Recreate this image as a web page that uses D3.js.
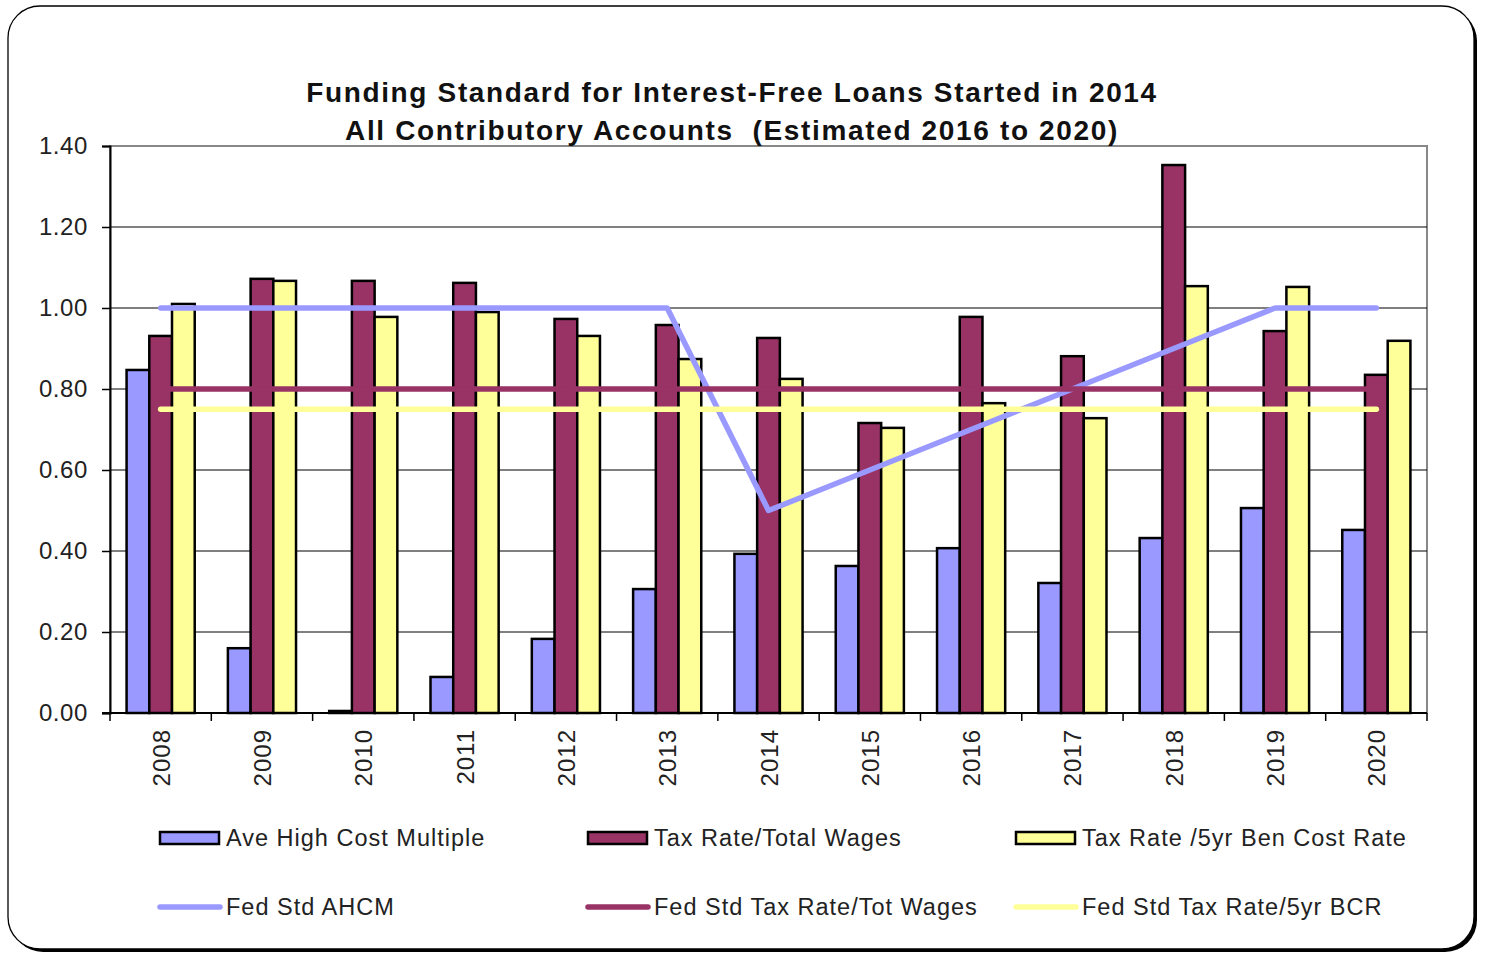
<!DOCTYPE html>
<html>
<head>
<meta charset="utf-8">
<script src="https://cdn.jsdelivr.net/npm/d3@7"></script>
<style>
  body { margin: 0; background: #fff; }
  svg { display: block; font-family: "Liberation Sans", Arial, sans-serif; }
</style>
</head>
<body>
<svg id="chart" width="1485" height="954"></svg>
<script>
// data
const years = ["2008","2009","2010","2011","2012","2013","2014","2015","2016","2017","2018","2019","2020"];
const aveHighCost = [0.847, 0.160, 0.005, 0.089, 0.183, 0.306, 0.393, 0.363, 0.407, 0.321, 0.432, 0.506, 0.452];
const taxTotWages = [0.931, 1.072, 1.067, 1.062, 0.973, 0.958, 0.926, 0.716, 0.978, 0.881, 1.353, 0.943, 0.835];
const tax5yrBcr   = [1.010, 1.067, 0.978, 0.990, 0.931, 0.874, 0.825, 0.704, 0.765, 0.728, 1.054, 1.052, 0.919];
const fedAhcm     = [1.0, 1.0, 1.0, 1.0, 1.0, 1.0, 0.5, 0.6, 0.7, 0.8, 0.9, 1.0, 1.0];
const fedTaxWages = [0.8, 0.8, 0.8, 0.8, 0.8, 0.8, 0.8, 0.8, 0.8, 0.8, 0.8, 0.8, 0.8];
const fedTaxBcr   = [0.75, 0.75, 0.75, 0.75, 0.75, 0.75, 0.75, 0.75, 0.75, 0.75, 0.75, 0.75, 0.75];
const yTicks = [0, 0.2, 0.4, 0.6, 0.8, 1.0, 1.2, 1.4];
const titleLines = ["Funding Standard for Interest-Free Loans Started in 2014",
                    "All Contributory Accounts  (Estimated 2016 to 2020)"];

const COLORS = { blue: "#9999FF", maroon: "#993366", yellow: "#FFFF99" };

const barSeries = [
  { name: "Ave High Cost Multiple", values: aveHighCost, color: COLORS.blue },
  { name: "Tax Rate/Total Wages", values: taxTotWages, color: COLORS.maroon },
  { name: "Tax Rate /5yr Ben Cost Rate", values: tax5yrBcr, color: COLORS.yellow }
];
const lineSeries = [
  { name: "Fed Std AHCM", values: fedAhcm, color: COLORS.blue },
  { name: "Fed Std Tax Rate/Tot Wages", values: fedTaxWages, color: COLORS.maroon },
  { name: "Fed Std Tax Rate/5yr BCR", values: fedTaxBcr, color: COLORS.yellow }
];

const plot = { left: 110, right: 1427, top: 146, bottom: 713 };
const svg = d3.select("#chart");

// frame with shadow
svg.append("rect").attr("x", 11).attr("y", 9).attr("width", 1466).attr("height", 943)
   .attr("rx", 32).attr("fill", "#000");
svg.append("rect").attr("x", 8).attr("y", 6).attr("width", 1466).attr("height", 943)
   .attr("rx", 32).attr("fill", "#fff").attr("stroke", "#000").attr("stroke-width", 1.3);

const x = d3.scaleBand().domain(years).range([plot.left, plot.right]);
const xInner = d3.scaleBand().domain(barSeries.map(s => s.name))
   .range([0, x.bandwidth()]).paddingInner(0).paddingOuter(0.73);
const y = d3.scaleLinear().domain([0, 1.4]).range([plot.bottom, plot.top]);

// plot border
svg.append("rect").attr("x", plot.left).attr("y", plot.top)
   .attr("width", plot.right - plot.left).attr("height", plot.bottom - plot.top)
   .attr("fill", "none").attr("stroke", "#888").attr("stroke-width", 2);

// gridlines
svg.append("g").selectAll("line").data(yTicks.filter(t => t > 0 && t < 1.4)).join("line")
   .attr("x1", plot.left).attr("x2", plot.right)
   .attr("y1", d => y(d)).attr("y2", d => y(d))
   .attr("stroke", "#000").attr("stroke-width", 1);

// bars
const groups = svg.append("g").selectAll("g").data(years).join("g")
   .attr("transform", d => `translate(${x(d)},0)`);
groups.selectAll("rect").data((d, i) => barSeries.map(s => ({ s, v: s.values[i] }))).join("rect")
   .attr("x", d => xInner(d.s.name))
   .attr("width", xInner.bandwidth())
   .attr("y", d => y(d.v))
   .attr("height", d => y(0) - y(d.v))
   .attr("fill", d => d.s.color)
   .attr("stroke", "#000").attr("stroke-width", 2.5);

// y axis
const yAxis = d3.axisLeft(y).tickValues(yTicks).tickFormat(d3.format(".2f")).tickSize(8).tickPadding(14);
const gy = svg.append("g").attr("transform", `translate(${plot.left},0)`).call(yAxis);
gy.select(".domain").attr("stroke", "#000").attr("stroke-width", 2);
gy.selectAll(".tick line").attr("stroke", "#000").attr("stroke-width", 1.5);
gy.selectAll("text").attr("font-size", 24).attr("fill", "#222").attr("letter-spacing", 0.6)
   .attr("font-family", "Liberation Sans, Arial, sans-serif");

// x axis: ticks on band boundaries
const gx = svg.append("g");
gx.append("line").attr("x1", plot.left - 8).attr("x2", plot.right)
   .attr("y1", plot.bottom).attr("y2", plot.bottom).attr("stroke", "#000").attr("stroke-width", 2);
const bounds = years.map(d => x(d)).concat([x.range()[1]]);
gx.selectAll("line.tk").data(bounds).join("line").attr("class", "tk")
   .attr("x1", d => d).attr("x2", d => d)
   .attr("y1", plot.bottom).attr("y2", plot.bottom + 8)
   .attr("stroke", "#000").attr("stroke-width", 1.5);
gx.selectAll("text").data(years).join("text")
   .attr("transform", d => `translate(${x(d) + x.bandwidth() / 2 + 9},${plot.bottom + 16}) rotate(-90)`)
   .attr("text-anchor", "end")
   .attr("font-size", 24).attr("letter-spacing", 1).attr("fill", "#222")
   .text(d => d);

// lines
const line = d3.line().x((d, i) => x(years[i]) + x.bandwidth() / 2).y(d => y(d));
svg.append("g").selectAll("path").data(lineSeries).join("path")
   .attr("d", d => line(d.values))
   .attr("fill", "none").attr("stroke", d => d.color)
   .attr("stroke-width", 5.5).attr("stroke-linecap", "round").attr("stroke-linejoin", "round");

// title
svg.append("g").selectAll("text").data(titleLines).join("text")
   .attr("x", 732).attr("y", (d, i) => 102 + i * 38)
   .attr("text-anchor", "middle").attr("font-weight", "bold").attr("font-size", 28)
   .attr("letter-spacing", 1.65)
   .attr("fill", "#111").attr("xml:space", "preserve").style("white-space", "pre")
   .text(d => d);

// legend
const legCols = [160, 588, 1016];
const legRows = [838, 907];
const leg = svg.append("g");
barSeries.forEach((s, i) => {
  leg.append("rect").attr("x", legCols[i]).attr("y", legRows[0] - 6).attr("width", 59).attr("height", 12)
     .attr("fill", s.color).attr("stroke", "#000").attr("stroke-width", 2.5);
  leg.append("text").attr("x", legCols[i] + 66).attr("y", legRows[0] + 8)
     .attr("font-size", 23.5).attr("letter-spacing", 1).attr("fill", "#222").text(s.name);
});
lineSeries.forEach((s, i) => {
  leg.append("line").attr("x1", legCols[i]).attr("x2", legCols[i] + 60)
     .attr("y1", legRows[1]).attr("y2", legRows[1])
     .attr("stroke", s.color).attr("stroke-width", 5.5).attr("stroke-linecap", "round");
  leg.append("text").attr("x", legCols[i] + 66).attr("y", legRows[1] + 8)
     .attr("font-size", 23.5).attr("letter-spacing", 1).attr("fill", "#222").text(s.name);
});
</script>
</body>
</html>
